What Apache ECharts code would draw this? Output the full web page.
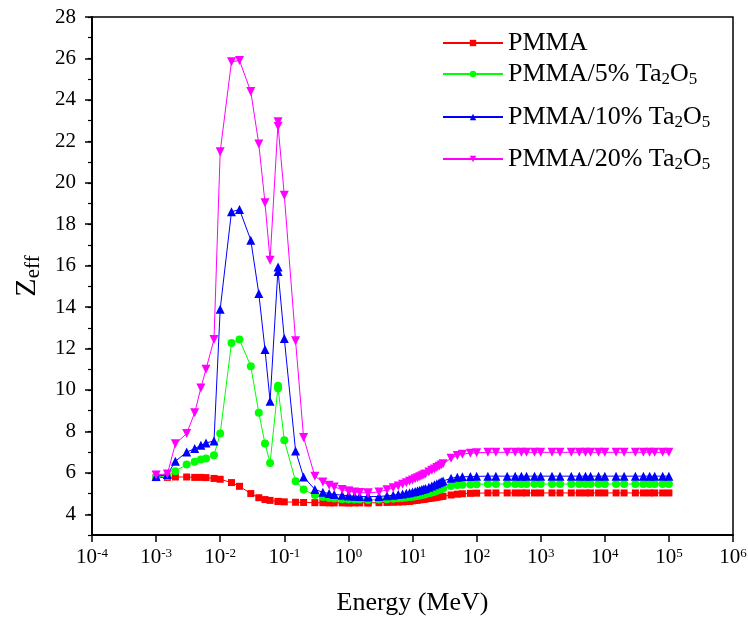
<!DOCTYPE html>
<html>
<head>
<meta charset="utf-8">
<script src="https://cdn.jsdelivr.net/npm/echarts@6/dist/echarts.min.js"></script>
<style>html,body{margin:0;padding:0;background:#fff}#c{width:748px;height:619px}</style>
</head>
<body>
<div id="c"></div>
<script>
const energies = [0.001, 0.0015, 0.002, 0.003, 0.004, 0.005, 0.006, 0.008, 0.01, 0.015, 0.02, 0.03, 0.04, 0.05, 0.06, 0.08, 0.08, 0.1, 0.15, 0.2, 0.3, 0.4, 0.5, 0.6, 0.8, 1, 1.022, 1.25, 1.5, 2, 2.044, 3, 4, 5, 6, 7, 8, 9, 10, 11, 12, 13, 14, 15, 16, 18, 20, 22, 24, 26, 28, 30, 40, 50, 60, 80, 100, 150, 200, 300, 400, 500, 600, 800, 1000, 1500, 2000, 3000, 4000, 5000, 6000, 8000, 10000, 15000, 20000, 30000, 40000, 50000, 60000, 80000, 100000];

const seriesNames = ['PMMA', 'PMMA/5% Ta2O5', 'PMMA/10% Ta2O5', 'PMMA/20% Ta2O5'];

const zPMMA = [5.77, 5.78, 5.80, 5.80, 5.78, 5.78, 5.77, 5.73, 5.69, 5.53, 5.35, 5.00, 4.80, 4.71, 4.67, 4.62, 4.62, 4.60, 4.58, 4.57, 4.56, 4.56, 4.55, 4.55, 4.55, 4.55, 4.55, 4.55, 4.55, 4.55, 4.55, 4.56, 4.57, 4.58, 4.59, 4.60, 4.61, 4.62, 4.65, 4.67, 4.68, 4.70, 4.71, 4.72, 4.74, 4.76, 4.78, 4.80, 4.82, 4.84, 4.86, 4.87, 4.93, 4.97, 4.99, 5.01, 5.02, 5.03, 5.03, 5.03, 5.03, 5.03, 5.03, 5.03, 5.03, 5.03, 5.03, 5.03, 5.03, 5.03, 5.03, 5.03, 5.03, 5.03, 5.03, 5.03, 5.03, 5.03, 5.03, 5.03, 5.03];

const z5 = [5.80, 5.85, 6.08, 6.40, 6.53, 6.64, 6.69, 6.85, 7.90, 12.27, 12.43, 11.15, 8.90, 7.41, 6.48, 10.20, 10.08, 7.57, 5.60, 5.19, 4.93, 4.83, 4.78, 4.76, 4.73, 4.72, 4.72, 4.71, 4.71, 4.70, 4.70, 4.71, 4.73, 4.75, 4.77, 4.79, 4.81, 4.83, 4.85, 4.87, 4.89, 4.91, 4.93, 4.95, 4.97, 5.01, 5.05, 5.09, 5.13, 5.17, 5.21, 5.25, 5.36, 5.41, 5.43, 5.44, 5.45, 5.46, 5.46, 5.46, 5.46, 5.46, 5.46, 5.46, 5.46, 5.46, 5.46, 5.46, 5.46, 5.46, 5.46, 5.46, 5.46, 5.46, 5.46, 5.46, 5.46, 5.46, 5.46, 5.46, 5.46];

const z10 = [5.82, 5.92, 6.56, 7.00, 7.17, 7.33, 7.44, 7.54, 13.90, 18.60, 18.71, 17.23, 14.66, 11.95, 9.46, 15.93, 15.72, 12.48, 7.06, 5.80, 5.20, 5.06, 5.00, 4.96, 4.92, 4.89, 4.89, 4.87, 4.86, 4.85, 4.85, 4.86, 4.89, 4.92, 4.95, 4.98, 5.01, 5.04, 5.07, 5.10, 5.13, 5.16, 5.19, 5.22, 5.25, 5.31, 5.37, 5.42, 5.47, 5.52, 5.57, 5.61, 5.74, 5.79, 5.81, 5.82, 5.83, 5.84, 5.84, 5.84, 5.84, 5.84, 5.84, 5.84, 5.84, 5.84, 5.84, 5.84, 5.84, 5.84, 5.84, 5.84, 5.84, 5.84, 5.84, 5.84, 5.84, 5.84, 5.84, 5.84, 5.84];

const z20 = [5.90, 5.95, 7.40, 7.90, 8.90, 10.10, 11.00, 12.43, 21.50, 25.84, 25.90, 24.40, 21.87, 19.03, 16.26, 22.94, 22.73, 19.40, 12.37, 7.70, 5.83, 5.56, 5.40, 5.32, 5.20, 5.12, 5.11, 5.07, 5.05, 5.03, 5.03, 5.08, 5.18, 5.28, 5.37, 5.45, 5.52, 5.59, 5.65, 5.71, 5.76, 5.81, 5.86, 5.91, 5.95, 6.04, 6.12, 6.19, 6.26, 6.32, 6.38, 6.44, 6.70, 6.84, 6.90, 6.95, 6.97, 6.99, 6.99, 6.99, 6.99, 6.99, 6.99, 6.99, 6.99, 6.99, 6.99, 6.99, 6.99, 6.99, 6.99, 6.99, 6.99, 6.99, 6.99, 6.99, 6.99, 6.99, 6.99, 6.99, 6.99];

const yMajorTicks = [4, 6, 8, 10, 12, 14, 16, 18, 20, 22, 24, 26, 28];

const FONT = '"Liberation Serif", "Times New Roman", serif';
const colors = ['#ff0000', '#00ff00', '#0000ff', '#ff00ff'];
const symbols = ['rect', 'circle', 'triangle', 'triangle'];
const symbolSizes = [7, 8, 9, 9];
const rotations = [0, 0, 0, 180];
const allValues = [zPMMA, z5, z10, z20];

function pairs(vals) { return energies.map((e, i) => [e, vals[i]]); }

const series = seriesNames.map((n, k) => ({
  name: n,
  type: 'line',
  data: pairs(allValues[k]),
  symbol: symbols[k],
  symbolSize: symbolSizes[k],
  symbolRotate: rotations[k],
  showAllSymbol: true,
  lineStyle: { color: colors[k], width: 1 },
  itemStyle: { color: colors[k] },
  emphasis: { disabled: true },
  animation: false,
  z: 2 + k
}));

const legendTops = [30, 61, 104, 146];
const legends = seriesNames.map((n, k) => ({
  data: [n],
  left: 442,
  top: legendTops[k],
  padding: 0,
  orient: 'vertical',
  itemWidth: 60,
  itemHeight: 8,
  itemGap: 0,
  selectedMode: false,
  formatter: name => name.replace('Ta2O5', 'Ta{s|2}O{s|5}'),
  textStyle: {
    fontFamily: FONT, fontSize: 26, color: '#000',
    rich: {
      s: { fontFamily: FONT, fontSize: 17, color: '#000', verticalAlign: 'bottom', padding: [12, 0, 0, 0] }
    }
  }
}));

const chart = echarts.init(document.getElementById('c'), null, { renderer: 'canvas' });
chart.setOption({
  animation: false,
  backgroundColor: '#fff',
  grid: { left: 92, right: 15, top: 17, bottom: 84, containLabel: false, outerBoundsMode: 'none',
          show: true, borderColor: '#000', borderWidth: 1.5, backgroundColor: 'transparent' },
  legend: legends,
  xAxis: {
    type: 'log', logBase: 10, min: 1e-4, max: 1e6, splitNumber: 10,
    name: 'Energy (MeV)', nameLocation: 'middle', nameGap: 55,
    nameTextStyle: { fontFamily: FONT, fontSize: 26, color: '#000' },
    axisLine: { lineStyle: { color: '#000', width: 2 } },
    axisTick: { length: 7, lineStyle: { color: '#000', width: 1.5 } },
    splitLine: { show: false },
    minorTick: { show: false },
    axisLabel: {
      margin: 12,
      formatter: v => '{b|10}{s|' + Math.round(Math.log10(v)) + '}',
      rich: {
        b: { fontFamily: FONT, fontSize: 21, color: '#000' },
        s: { fontFamily: FONT, fontSize: 13, color: '#000', verticalAlign: 'top', padding: [0, 0, 8, 0] }
      }
    }
  },
  yAxis: [{
    type: 'value', min: 3, max: 28,
    name: '{z|Z}{e|eff}', nameLocation: 'middle', nameGap: 46,
    nameTextStyle: {
      rich: {
        z: { fontFamily: FONT, fontSize: 30, color: '#000' },
        e: { fontFamily: FONT, fontSize: 21, color: '#000', verticalAlign: 'bottom', padding: [12, 0, 0, 0] }
      }
    },
    axisLine: { lineStyle: { color: '#000', width: 2 } },
    axisTick: { length: 7, customValues: yMajorTicks, lineStyle: { color: '#000', width: 1.5 } },
    axisLabel: { customValues: yMajorTicks, margin: 16, fontFamily: FONT, fontSize: 21, color: '#000' },
    splitLine: { show: false }
  }, {
    type: 'value', min: 3, max: 28, interval: 1, position: 'left',
    axisLine: { show: false },
    axisTick: { length: 4, lineStyle: { color: '#000', width: 1.2 } },
    axisLabel: { show: false },
    splitLine: { show: false }
  }],
  series: series
});
</script>
</body>
</html>
